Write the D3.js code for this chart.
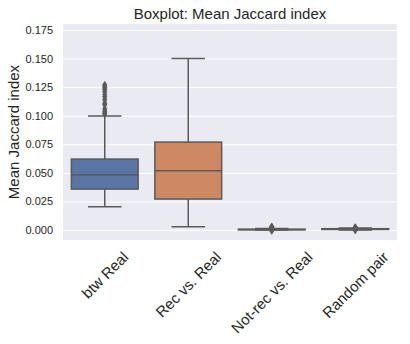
<!DOCTYPE html>
<html>
<head>
<meta charset="utf-8">
<script src="https://cdn.jsdelivr.net/npm/d3@7"></script>
<style>
  html, body { margin: 0; padding: 0; background: #ffffff; }
  svg { display: block; font-family: "Liberation Sans", Arial, sans-serif; }
</style>
</head>
<body>
<svg id="chart" width="410" height="344"></svg>
<script>
// Groups compared
const categories = ["btw Real", "Rec vs. Real", "Not-rec vs. Real", "Random pair"];
// Box statistics per group
const whiskerLow = [0.0204, 0.0029, 0.0000, 0.0001];
const q1 = [0.0358, 0.0271, 0.0002, 0.0005];
const median = [0.0481, 0.0518, 0.0004, 0.0008];
const q3 = [0.0621, 0.0769, 0.0007, 0.0012];
const whiskerHigh = [0.0997, 0.1500, 0.0013, 0.0018];
const outliers = [
  [0.1015, 0.1025, 0.1040, 0.1060, 0.1095, 0.1110, 0.1140, 0.1165, 0.1185, 0.1210, 0.1230, 0.1245, 0.1260, 0.1270],
  [],
  [-0.0008, 0.0016, 0.0020, 0.0024, 0.0028, 0.0031],
  [-0.0004, 0.0020, 0.0023, 0.0026]
];
const boxColors = ["#5875a4", "#cc8963", "#5f9e6e", "#b55d60"];
const yTicks = [0.000, 0.025, 0.050, 0.075, 0.100, 0.125, 0.150, 0.175];

const svg = d3.select("#chart");
const margin = { left: 63, right: 397, top: 24, bottom: 240 };

const x = d3.scaleBand().domain(categories).range([margin.left, margin.right]).paddingInner(0).paddingOuter(0);
const y = d3.scaleLinear().domain([-0.0087, 0.1802]).range([margin.bottom, margin.top]);

// Plot background
svg.append("rect")
  .attr("x", margin.left).attr("y", margin.top)
  .attr("width", margin.right - margin.left).attr("height", margin.bottom - margin.top)
  .attr("fill", "#eaeaf2");

// Horizontal grid and y tick labels
const yAxis = d3.axisLeft(y).tickValues(yTicks).tickFormat(d3.format(".3f"))
  .tickSize(-(margin.right - margin.left)).tickPadding(10);
const gy = svg.append("g").attr("transform", `translate(${margin.left},0)`).call(yAxis);
gy.select(".domain").remove();
gy.selectAll(".tick line").attr("stroke", "#ffffff").attr("stroke-width", 1);
gy.selectAll(".tick text").attr("fill", "#262626").style("font-size", "11px")
  .style("font-family", "'Liberation Sans', Arial, sans-serif");

const lineColor = "#5a5a5a";
const boxW = x.bandwidth() * 0.8;
const capW = boxW / 2;

const groups = svg.append("g").selectAll("g.box").data(categories).join("g").attr("class", "box");

groups.each(function (cat, i) {
  const g = d3.select(this);
  const cx = x(cat) + x.bandwidth() / 2;
  // whiskers
  g.append("line").attr("x1", cx).attr("x2", cx)
    .attr("y1", y(whiskerLow[i])).attr("y2", y(q1[i]))
    .attr("stroke", lineColor).attr("stroke-width", 1.5);
  g.append("line").attr("x1", cx).attr("x2", cx)
    .attr("y1", y(q3[i])).attr("y2", y(whiskerHigh[i]))
    .attr("stroke", lineColor).attr("stroke-width", 1.5);
  // caps
  [whiskerLow[i], whiskerHigh[i]].forEach(v => {
    g.append("line").attr("x1", cx - capW / 2).attr("x2", cx + capW / 2)
      .attr("y1", y(v)).attr("y2", y(v))
      .attr("stroke", lineColor).attr("stroke-width", 1.5);
  });
  // box
  g.append("rect")
    .attr("x", cx - boxW / 2).attr("width", boxW)
    .attr("y", y(q3[i])).attr("height", Math.max(0, y(q1[i]) - y(q3[i])))
    .attr("fill", boxColors[i]).attr("stroke", lineColor).attr("stroke-width", 1.5);
  // median
  g.append("line").attr("x1", cx - boxW / 2).attr("x2", cx + boxW / 2)
    .attr("y1", y(median[i])).attr("y2", y(median[i]))
    .attr("stroke", lineColor).attr("stroke-width", 1.5);
  // outliers (thin diamonds)
  const diamond = "M0,-3.4L2.1,0L0,3.4L-2.1,0Z";
  g.selectAll("path.flier").data(outliers[i]).join("path").attr("class", "flier")
    .attr("d", diamond)
    .attr("transform", d => `translate(${cx},${y(d)})`)
    .attr("fill", lineColor).attr("stroke", lineColor).attr("stroke-width", 0.8);
});

// X tick labels, rotated 45 degrees and centred under each group
const labelTop = 249;
categories.forEach(cat => {
  const cx = x(cat) + x.bandwidth() / 2;
  const t = svg.append("text")
    .text(cat)
    .attr("fill", "#262626")
    .style("font-size", "15px")
    .attr("text-anchor", "middle")
    .attr("dominant-baseline", "central");
  const w = t.node().getComputedTextLength();
  const h = 15 * 1.0;
  const bh = (w + h) * Math.SQRT1_2;
  const cy = labelTop + bh / 2;
  t.attr("transform", `translate(${cx},${cy}) rotate(-45)`);
});

// Title
svg.append("text")
  .attr("x", (margin.left + margin.right) / 2).attr("y", 19)
  .attr("text-anchor", "middle").attr("fill", "#262626")
  .style("font-size", "15px")
  .text("Boxplot: Mean Jaccard index");

// Y axis label
svg.append("text")
  .attr("transform", `translate(19,${(margin.top + margin.bottom) / 2}) rotate(-90)`)
  .attr("text-anchor", "middle").attr("fill", "#262626")
  .style("font-size", "15px")
  .text("Mean Jaccard index");
</script>
</body>
</html>
